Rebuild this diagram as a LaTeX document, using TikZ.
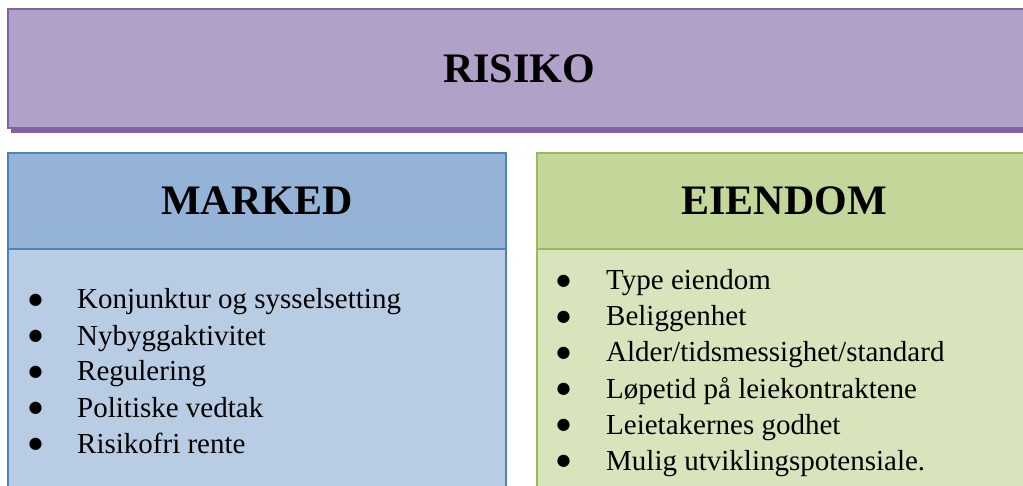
\documentclass[tikz,border=0pt]{standalone}
\usepackage{fontspec}
\setmainfont{Liberation Serif}
\newfontfamily\dotfont{DejaVu Sans}
\usetikzlibrary{positioning}

\definecolor{riskfill}{HTML}{B1A0C7}
\definecolor{riskline}{HTML}{8064A2}
\definecolor{markhead}{HTML}{95B3D7}
\definecolor{markbody}{HTML}{B8CCE4}
\definecolor{markline}{HTML}{4F81BD}
\definecolor{eiehead}{HTML}{C4D79B}
\definecolor{eiebody}{HTML}{D8E4BC}
\definecolor{eieline}{HTML}{9BBB59}

\tikzset{
  panel/.style={draw,line width=1.5pt,inner sep=0pt,outer sep=0pt,anchor=north west},
  title/.style={panel,font=\fontsize{42}{48}\selectfont\bfseries},
  dot/.style={inner sep=0pt,anchor=center,font=\dotfont\fontsize{16}{16}\selectfont},
  item/.style={inner sep=0pt,anchor=base west,font=\fontsize{29}{36}\selectfont}
}

\begin{document}
\begin{tikzpicture}[x=1pt,y=-1pt]
\useasboundingbox (0,0) rectangle (1023,486);
\clip (0,0) rectangle (1023,486);
\fill[white] (0,0) rectangle (1023,486);

% top box with its shadow
\fill[riskline] (11,14) rectangle (1040,133);
\node[title,fill=riskfill,draw=riskline,minimum width=1022pt,minimum height=119pt] (risiko) at (8,9) {RISIKO};

% left column
\node[title,fill=markhead,draw=markline,minimum width=498pt,minimum height=96pt,text depth=-3pt] (marked) at (8,153) {MARKED};
\node[panel,fill=markbody,draw=markline,minimum width=498pt,minimum height=250pt,below=0pt of marked.south west,anchor=north west] (markedbody) {};

% right column
\node[title,fill=eiehead,draw=eieline,minimum width=494pt,minimum height=96pt,text depth=-3pt] (eiendom) at (537,153) {EIENDOM};
\node[panel,fill=eiebody,draw=eieline,minimum width=494pt,minimum height=250pt,below=0pt of eiendom.south west,anchor=north west] (eiendombody) {};

\foreach \t [count=\n] in
   {Konjunktur og sysselsetting,Nybyggaktivitet,Regulering,Politiske vedtak,Risikofri rente}
   {
   \node[dot] (mb\n) at (35.5,{300+36*(\n-1)}) {●};
   \node[item] (m\n) at (77,{309+36*(\n-1)}) {\t};
   }

\foreach \t [count=\n] in
   {Type eiendom,Beliggenhet,Alder/tidsmessighet/standard,Løpetid på leiekontraktene,Leietakernes godhet,Mulig utviklingspotensiale.}
   {
   \node[dot] (eb\n) at (563.5,{281+36*(\n-1)}) {●};
   \node[item] (e\n) at (606,{290+36*(\n-1)}) {\t};
   }
\end{tikzpicture}
\end{document}
